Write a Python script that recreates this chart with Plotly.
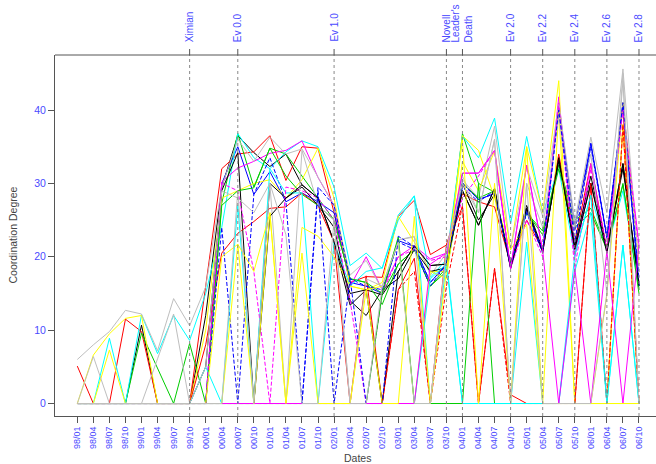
import plotly.graph_objects as go

dates = ["98/01","98/04","98/07","98/10","99/01","99/04","99/07","99/10",
         "00/01","00/04","00/07","00/10","01/01","01/04","01/07","01/10",
         "02/01","02/04","02/07","02/10","03/01","03/04","03/07","03/10",
         "04/01","04/04","04/07","04/10","05/01","05/04","05/07","05/10",
         "06/01","06/04","06/07","06/10"]

event_dates = ["99/10", "00/07", "02/01", "03/10", "04/01", "04/10", "05/04", "05/10", "06/04", "06/10"]
event_labels = ["Ximian", "Ev 0.0", "Ev 1.0", "Novell", "Leader's<br>Death", "Ev 2.0", "Ev 2.2", "Ev 2.4", "Ev 2.6", "Ev 2.8"]

yticks = [0, 10, 20, 30, 40]

# R default palette order
palette = ["#000000", "#FF0000", "#00CD00", "#0000FF", "#00FFFF", "#FF00FF", "#FFFF00", "#BEBEBE"]

s01 = [0,0,0,0,10.7,0,0,0,12,29.5,36.5,34.2,32.3,34,29.8,28,22,13.4,15.5,14.8,18,21.5,18.8,19,29,24.3,29.3,18.4,26.6,20.7,33.5,21.1,30,20.9,32.7,16]
s02 = [5.1,0,0,11.5,9.8,0,0,0,16,32,34,34.3,36.5,30.4,35,34.8,26,16.5,17.3,17.2,25.5,27.7,20.3,21.6,28.6,27.5,26.8,19,25,21,34,22,32.7,21,40.7,0]
s03 = [0,0,0,0,9.6,4.8,0,8.2,0,27.3,36.8,29.5,34.8,34,31,28,25,17,16.5,13.5,19,21,16,18.5,36.8,30,28.8,19.1,26,23.5,32.5,25,26.6,21.1,29.8,15.5]
s04 = [0,0,0,0,0,0,0,0,0,30,35,28.5,31.6,27.5,28.7,27.5,26,16.5,16,15,22.2,21.4,16.5,19,30.1,27.8,28.6,18.8,26.4,20.7,40.8,24,35.5,22.7,41,16]
s05 = [0,0,8.9,0,12.1,6.8,12,8.6,15,24,36.8,33.5,32,34.3,35.8,35,29.5,18.8,20.5,18.4,25.7,28.3,17.2,19.6,36.5,33.5,38.9,24.5,36.4,26,32,20.2,28.4,21,29,16]
s06 = [0,0,0,0,0,0,0,0,0,30.2,32.1,33,34.1,34.5,35.8,30.8,27,16,20,15.5,20,21.5,19.7,20.5,31.4,31.4,34.5,18.4,32.5,20.8,41.8,20,32.7,20.8,40.5,21.6]
s07 = [0,6.6,9.5,11.6,12,0,0,0,10,28,29,30,30.5,28,30.5,34.8,28,16,15.5,16.5,25.5,22,18,18,36.5,34.5,28,21,35,26,44,0,0,14.8,41,19]
s08 = [6,8,9.8,12.7,12.2,7.2,14.3,10.6,15.9,29.5,36,33,36.3,34,34.7,30.8,27,17.5,19.5,15.5,22.3,22.7,17.5,20.5,30.5,28,37.8,21,32.3,25.5,41,24.8,36.3,26,45.6,18]
s09 = [0,0,0,0,0,0,0,0,5,29,34.2,0,30,28,29.5,27,24,14,12,15.5,17,21,18,18.5,30,25,28.5,19,27,21,33,21.5,31,21,32,16.5]
s10 = [0,0,0,0,0,0,0,0,8,20.5,23.2,24.8,26.6,26.8,28.7,27,22,0,17.4,0,15.5,19.8,0,21.6,26.8,0,18.4,1.2,0,0,0,0,30,0,38,0]
s11 = [0,0,0,0,0,0,0,0,0,27,29,29.4,34.8,31,28.5,27,25,17,16.5,15,19,21,16,18,30,28,29,19,26,23,32,24,26,21,30,15]
s12 = [0,0,0,0,0,0,0,0,0,24,0,28.5,33.5,27.5,0,29.5,27,17,16,15.5,22,21,16,19,29.5,27.5,29,18.5,26,20.5,40,23.5,35,22.5,40.5,16]
s13 = [0,0,0,0,0,0,0,0,5,0,27,0,32,28.7,28.7,0,22,16,18,18.5,25,28.3,0,19.5,0,0,0,0,22,0,0,18,26,0,21.6,0]
s14 = [0,0,0,0,0,0,0,0,0,30,29,18,0,29.5,29,28,25,14,0,15,20,21,19.5,20,28,31,34.5,18.4,25,20,41,18.4,32,20.8,40,21]
s15 = [0,0,7.3,0,0,0,0,0,0,20,21.7,18,26,0,24,22.8,20,16,15.5,16,22,0,18,17,33,29,34.4,21,24.4,0,40,0,0,0,38,0]
s16 = [0,6.4,0,0,0,6.1,12.2,0,5,29,28,26,30,0,34.5,27,25,0,17,16,22.3,22.8,0,21,31,26,36,0,30,24,39,24,34,15,44,0]
s17 = [0,0,0,0,0,0,0,0,0,0,0,0,25.5,28,29.8,28,22,15,15.5,0,18,21.5,18.8,19,29,24.3,29.3,18.5,26.6,20.7,33.5,21,30,20.5,32.7,16]
s18 = [0,0,0,0,0,0,0,0,0,0,0,0,0,0,0,0,0,0,0,0,15.5,18,0,16,27,0,18.4,0,0,0,0,0,30,0,38,0]
s19 = [0,0,0,0,0,0,0,0,0,0,0,0,0,0,0,0,0,0,0,15,22.7,0,0,0,0,30,0,0,0,0,0,0,0,0,0,0]
s20 = [0,0,0,0,0,0,0,0,0,0,0,0,0,0,0,29,0,17,0,0,22.8,21.4,16.5,19,30,27.8,28.6,19,26,21,40,22,35.4,22.7,41,17]
s21 = [0,0,0,0,0,0,0,0,0,0,0,0,0,0,0,0,0,0,0,0,0,0,17,19,0,0,0,0,0,0,0,20.2,28.4,0,21.6,0]
s22 = [0,0,0,0,0,0,0,0,0,0,0,0,0,0,0,0,0,0,0,0,0,0,19,20.5,31.4,31.4,34.5,18.4,32.5,20.8,0,18.4,0,20.8,0,21.6]
s23 = [0,0,0,0,0,0,0,0,0,0,21.7,0,26,0,20.5,0,0,0,15.5,0,0,25.5,0,18,36,0,30,0,35,0,0,0,0,0,0,0]
s24 = [0,0,0,0,0,0,0,0,0,0,29,0,30,23,0,0,25,0,0,16,22,0,0,21,30,26,36,0,30,0,0,0,0,15,45,0]

series = [s01, s02, s03, s04, s05, s06, s07, s08, s09, s10, s11, s12,
          s13, s14, s15, s16, s17, s18, s19, s20, s21, s22, s23, s24]
dashed = {11, 13, 17, 19}

xidx = list(range(len(dates)))

fig = go.Figure()
for i, s in enumerate(series):
    fig.add_trace(go.Scatter(
        x=xidx, y=s, mode="lines",
        line=dict(color=palette[i % 8], width=1, dash="4px,2px" if i in dashed else "solid"),
        hoverinfo="skip", showlegend=False))

L, R, T, B = 55, 0, 55, 48
W, H = 656, 464
ph = H - T - B
FONT = "Liberation Sans, Arial, sans-serif"

shapes = []
annotations = []
for d, lab in zip(event_dates, event_labels):
    xi = dates.index(d)
    shapes.append(dict(type="line", xref="x", yref="paper", x0=xi, x1=xi, y0=0, y1=1,
                       line=dict(color="#888888", width=1, dash="dot"), layer="above"))
    shapes.append(dict(type="line", xref="x", yref="paper", x0=xi, x1=xi, y0=1, y1=1 + 6 / ph,
                       line=dict(color="#555555", width=1)))
    annotations.append(dict(x=xi, y=1, xref="x", yref="paper", text=lab, showarrow=False,
                            textangle=-90, xanchor="center", yanchor="bottom", yshift=11,
                            align="left",
                            font=dict(family=FONT, size=10, color="#4a4aff")))
# top frame line
shapes.append(dict(type="line", xref="paper", yref="paper", x0=0, x1=1, y0=1, y1=1,
                   line=dict(color="#555555", width=1)))

annotations.append(dict(x=-43 / (W - L - R), y=0.5, xref="paper", yref="paper", text="Coordination Degree",
                        showarrow=False, textangle=-90, xanchor="center", yanchor="middle",
                        font=dict(family=FONT, size=10.5, color="#444444")))
annotations.append(dict(x=0.504, y=0, xref="paper", yref="paper", text="Dates", showarrow=False,
                        xanchor="center", yanchor="middle", yshift=-42,
                        font=dict(family=FONT, size=10.5, color="#444444")))

fig.update_layout(
    width=W, height=H,
    margin=dict(l=L, r=R, t=T, b=B, pad=0, autoexpand=False),
    paper_bgcolor="white", plot_bgcolor="white",
    shapes=shapes, annotations=annotations,
    hovermode=False,
    xaxis=dict(range=[-1.39, 36.06], tickvals=xidx, ticktext=dates, tickangle=-90,
               automargin=False,
               showgrid=False, zeroline=False, showline=True, linecolor="#555555", linewidth=1,
               ticks="outside", ticklen=6, tickcolor="#555555",
               tickfont=dict(family=FONT, size=9, color="#4a4aff")),
    yaxis=dict(range=[-1.7, 47.5], tickvals=yticks, showgrid=False, zeroline=False,
               automargin=False,
               showline=True, linecolor="#555555", linewidth=1,
               ticks="outside", ticklen=6, tickcolor="#555555",
               tickfont=dict(family=FONT, size=10.5, color="#4a4aff")),
)

fig.write_html("out.html", config={"displayModeBar": False, "staticPlot": True},
               post_script="document.body.style.margin='0px';document.body.style.padding='0px';document.body.style.overflow='hidden';")
